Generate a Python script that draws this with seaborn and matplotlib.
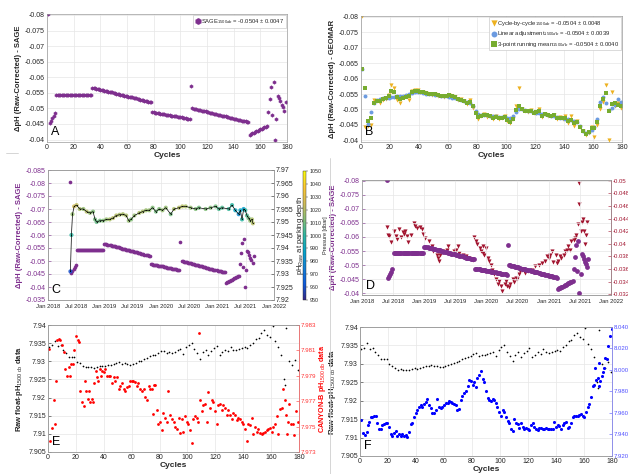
import numpy as np
import pandas as pd
import matplotlib
matplotlib.use("Agg")
import matplotlib.pyplot as plt
import matplotlib.dates as mdates
from matplotlib.ticker import MultipleLocator, FuncFormatter, FixedLocator
from matplotlib.colors import LinearSegmentedColormap, Normalize
from matplotlib.lines import Line2D
import seaborn as sns

# ---------------- data ----------------
# SAGE-derived offset per cycle (panels A, C, D)
sage_cycles = list(range(1, 180))
sage_dph = [
    -0.0803,
    -0.0453, -0.0461, -0.0469, -0.0477, -0.0485,
    -0.0543, -0.0543, -0.0543, -0.0543, -0.0543, -0.0543, -0.0543, -0.0543, -0.0543,
    -0.0543, -0.0543, -0.0543, -0.0543, -0.0543, -0.0543, -0.0543, -0.0543, -0.0543,
    -0.0543, -0.0543, -0.0543, -0.0543, -0.0543, -0.0543, -0.0543, -0.0543, -0.0543,
    -0.0566, -0.0565, -0.0564, -0.0563, -0.0562, -0.0561, -0.0560, -0.0559, -0.0558, -0.0557,
    -0.0556, -0.0555, -0.0554, -0.0553, -0.0552, -0.0551, -0.0549, -0.0548, -0.0547, -0.0546,
    -0.0545, -0.0544, -0.0543, -0.0542, -0.0541, -0.0540, -0.0539, -0.0538, -0.0537, -0.0536,
    -0.0535, -0.0534, -0.0533, -0.0532, -0.0531, -0.0530, -0.0528, -0.0527, -0.0526, -0.0525,
    -0.0524, -0.0523, -0.0522, -0.0521, -0.0520,
    -0.0488, -0.0487, -0.0486, -0.0486, -0.0485, -0.0484, -0.0483, -0.0482, -0.0482, -0.0481,
    -0.0480, -0.0479, -0.0479, -0.0478, -0.0477, -0.0476, -0.0475, -0.0475, -0.0474, -0.0473,
    -0.0472, -0.0471, -0.0471, -0.0470, -0.0469, -0.0468, -0.0467, -0.0467, -0.0466,
    -0.0572,
    -0.0500, -0.0499, -0.0498, -0.0497, -0.0496, -0.0495, -0.0494, -0.0493, -0.0492, -0.0491,
    -0.0490, -0.0488, -0.0487, -0.0486, -0.0485, -0.0484, -0.0483, -0.0482, -0.0481, -0.0480,
    -0.0479, -0.0478, -0.0477, -0.0476, -0.0475, -0.0474, -0.0473, -0.0471, -0.0470, -0.0469,
    -0.0468, -0.0467, -0.0466, -0.0465, -0.0464, -0.0463, -0.0462, -0.0461, -0.0460, -0.0459,
    -0.0458, -0.0457, -0.0456,
    -0.0416, -0.0418, -0.0420, -0.0422, -0.0424, -0.0426, -0.0428, -0.0431, -0.0433, -0.0435,
    -0.0437, -0.0439, -0.0441, -0.0443,
    -0.0487, -0.0529, -0.0570, -0.0478, -0.0585, -0.0400, -0.0467, -0.0540, -0.0533, -0.0523,
    -0.0512, -0.0503, -0.0492, -0.0520,
]

# GEOMAR-derived offsets (panel B), every second cycle
geomar_cycles = list(range(1, 180, 2))
geomar_cycle_by_cycle = [
    -0.0803, -0.0443, -0.0447, -0.0450, -0.0530, -0.0527, -0.0520, -0.0530, -0.0535, -0.0548,
    -0.0578, -0.0570, -0.0532, -0.0522, -0.0540, -0.0542, -0.0530, -0.0560, -0.0562, -0.0563,
    -0.0556, -0.0555, -0.0553, -0.0550, -0.0548, -0.0550, -0.0545, -0.0544, -0.0541, -0.0545,
    -0.0548, -0.0542, -0.0540, -0.0530, -0.0535, -0.0528, -0.0518, -0.0530, -0.0505, -0.0490,
    -0.0468, -0.0480, -0.0485, -0.0475, -0.0480, -0.0468, -0.0478, -0.0470, -0.0473, -0.0480,
    -0.0462, -0.0455, -0.0470, -0.0510, -0.0568, -0.0500, -0.0495, -0.0492, -0.0498, -0.0488,
    -0.0490, -0.0500, -0.0475, -0.0485, -0.0480, -0.0478, -0.0483, -0.0470, -0.0475, -0.0470,
    -0.0478, -0.0455, -0.0478, -0.0448, -0.0462, -0.0445, -0.0430, -0.0418, -0.0425, -0.0445,
    -0.0410, -0.0450, -0.0500, -0.0525, -0.0580, -0.0400, -0.0557, -0.0512, -0.0520, -0.0505,
]
geomar_linear = [
    -0.0631, -0.0545, -0.0454, -0.0491, -0.0522, -0.0532, -0.0535, -0.0536, -0.0537, -0.0538,
    -0.0540, -0.0541, -0.0543, -0.0544, -0.0545, -0.0547, -0.0549, -0.0552, -0.0556, -0.0557,
    -0.0555, -0.0553, -0.0551, -0.0550, -0.0549, -0.0548, -0.0547, -0.0545, -0.0544, -0.0542,
    -0.0540, -0.0538, -0.0536, -0.0534, -0.0531, -0.0528, -0.0525, -0.0521, -0.0512, -0.0495,
    -0.0485, -0.0483, -0.0482, -0.0481, -0.0480, -0.0479, -0.0478, -0.0477, -0.0476, -0.0475,
    -0.0474, -0.0473, -0.0478, -0.0492, -0.0503, -0.0500, -0.0498, -0.0496, -0.0494, -0.0492,
    -0.0490, -0.0488, -0.0486, -0.0484, -0.0482, -0.0480, -0.0478, -0.0476, -0.0474, -0.0472,
    -0.0470, -0.0468, -0.0466, -0.0463, -0.0458, -0.0447, -0.0432, -0.0423, -0.0428, -0.0435,
    -0.0442, -0.0470, -0.0525, -0.0541, -0.0520, -0.0497, -0.0505, -0.0515, -0.0535, -0.0525,
]
geomar_running = [
    -0.0632, -0.0570, -0.0462, -0.0472, -0.0520, -0.0528, -0.0528, -0.0533, -0.0538, -0.0545,
    -0.0560, -0.0558, -0.0540, -0.0535, -0.0538, -0.0540, -0.0542, -0.0555, -0.0560, -0.0561,
    -0.0556, -0.0555, -0.0553, -0.0550, -0.0549, -0.0549, -0.0546, -0.0544, -0.0542, -0.0545,
    -0.0546, -0.0542, -0.0539, -0.0533, -0.0532, -0.0526, -0.0522, -0.0525, -0.0510, -0.0490,
    -0.0475, -0.0480, -0.0483, -0.0482, -0.0478, -0.0473, -0.0476, -0.0472, -0.0474, -0.0477,
    -0.0466, -0.0460, -0.0470, -0.0497, -0.0510, -0.0500, -0.0496, -0.0495, -0.0496, -0.0490,
    -0.0491, -0.0495, -0.0480, -0.0484, -0.0481, -0.0479, -0.0481, -0.0473, -0.0474, -0.0472,
    -0.0472, -0.0462, -0.0465, -0.0455, -0.0458, -0.0445, -0.0432, -0.0422, -0.0428, -0.0440,
    -0.0440, -0.0458, -0.0510, -0.0535, -0.0552, -0.0495, -0.0518, -0.0520, -0.0515, -0.0510,
]

# pH at parking depth (panel C, right axis)
park_cycles = [1, 2, 3, 4.6, 7, 10, 13.6, 16.8, 20, 23,
               24.9, 26.5, 29.7, 32.9, 36, 39.2, 42.4, 45.6, 48.8, 52,
               55.2, 57.7, 60, 63.2, 68, 71.3, 74.5, 77.7, 80.9, 84.1,
               87.3, 90.5, 93.7, 98.5, 101.7, 106.6, 109.8, 113, 117.8, 122.7,
               125.9, 132.4, 137.2, 142.1, 145.3, 148.5, 154.9, 158.1, 161.3, 164.6,
               166.2, 167.8, 169.4, 171, 172.6, 174.2, 175.8, 177.5, 178.4]
park_ph = [7.931, 7.945, 7.953, 7.956, 7.9565, 7.955, 7.955, 7.954, 7.9535, 7.954,
           7.951, 7.950, 7.9505, 7.9505, 7.951, 7.951, 7.9515, 7.9525, 7.9528, 7.953,
           7.9525, 7.9505, 7.951, 7.9525, 7.9535, 7.954, 7.9545, 7.9545, 7.9555, 7.954,
           7.955, 7.9545, 7.9555, 7.953, 7.955, 7.9555, 7.956, 7.956, 7.9555, 7.955,
           7.9555, 7.955, 7.9555, 7.956, 7.955, 7.9555, 7.955, 7.9565, 7.9545, 7.953,
           7.9545, 7.951, 7.955, 7.9545, 7.9525, 7.9515, 7.9505, 7.951, 7.9495]
park_pressure = [960, 1000, 1015, 1025, 1022, 1018, 1015, 1020, 1015, 1012,
                 1010, 1008, 1010, 1012, 1015, 1018, 1020, 1020, 1018, 1018,
                 1018, 1015, 1012, 1015, 1018, 1018, 1016, 1015, 1012, 1010,
                 1012, 1015, 1015, 1010, 1018, 1020, 1020, 1018, 1015, 1012,
                 1010, 1012, 1012, 1010, 1005, 1005, 1002, 1000, 990, 980,
                 990, 1000, 985, 1000, 1005, 1010, 1015, 1018, 1020]

# Second offset estimate (panel D, right axis)
d_red_cycles = [1, 2, 3, 5, 7, 9, 10, 12, 14, 15,
                16, 17, 19, 20, 22, 25, 26, 28, 30, 32,
                33, 35, 38, 41, 42, 45, 46, 47, 48, 51,
                54, 55, 57, 60, 62, 64, 65, 68, 71, 74,
                77, 78, 80, 81, 83, 84, 86, 86, 87, 89,
                90, 91, 93, 94, 96, 97, 99, 100, 102, 103,
                105, 106, 107, 109, 110, 112, 113, 115, 116, 118,
                119, 120, 123, 126, 129, 132, 135, 138, 141, 142,
                144, 145, 147, 148, 150, 151, 152, 154, 155, 157,
                158, 160, 161, 163, 164, 166, 167, 168, 170, 171,
                171, 172, 173, 174, 175, 176, 177, 178]
d_red_vals = [-0.0426, -0.0414, -0.0412, -0.0403, -0.0420, -0.0412, -0.0407, -0.0423, -0.0410, -0.0419,
              -0.0415, -0.0420, -0.0412, -0.0403, -0.0414, -0.0433, -0.0428, -0.0425, -0.0426, -0.0423,
              -0.0416, -0.0409, -0.0404, -0.0396, -0.0388, -0.0383, -0.0378, -0.0373, -0.0383, -0.0388,
              -0.0391, -0.0396, -0.0386, -0.0388, -0.0391, -0.0396, -0.0386, -0.0383, -0.0380, -0.0378,
              -0.0375, -0.0411, -0.0404, -0.0399, -0.0393, -0.0388, -0.0386, -0.0396, -0.0383, -0.0393,
              -0.0378, -0.0373, -0.0367, -0.0359, -0.0352, -0.0344, -0.0336, -0.0341, -0.0333, -0.0326,
              -0.0336, -0.0341, -0.0333, -0.0331, -0.0336, -0.0344, -0.0339, -0.0346, -0.0344, -0.0352,
              -0.0357, -0.0359, -0.0354, -0.0357, -0.0359, -0.0365, -0.0367, -0.0370, -0.0373, -0.0380,
              -0.0378, -0.0383, -0.0388, -0.0372, -0.0383, -0.0370, -0.0373, -0.0380, -0.0378, -0.0383,
              -0.0388, -0.0391, -0.0396, -0.0391, -0.0404, -0.0406, -0.0409, -0.0414, -0.0432, -0.0497,
              -0.0463, -0.0420, -0.0435, -0.0440, -0.0420, -0.0399, -0.0414, -0.0435]

# Raw float pH at 1500 db (panels E, F, left axis)
raw_cycles = list(range(1, 170, 2)) + [170, 171, 173, 175, 177, 179]
raw_ph = [7.9340, 7.9344, 7.9356, 7.9341, 7.9344, 7.9331, 7.9323, 7.9313, 7.9312, 7.9313,
          7.9299, 7.9294, 7.9288, 7.9283, 7.9285, 7.9284, 7.9282, 7.9284, 7.9286, 7.9288,
          7.9286, 7.9289, 7.9291, 7.9293, 7.9295, 7.9297, 7.9293, 7.9295, 7.9292, 7.9291,
          7.9293, 7.9296, 7.9300, 7.9302, 7.9305, 7.9309, 7.9314, 7.9317, 7.9318, 7.9322,
          7.9327, 7.9329, 7.9322, 7.9325, 7.9323, 7.9326, 7.9330, 7.9333, 7.9320, 7.9338,
          7.9345, 7.9350, 7.9333, 7.9322, 7.9307, 7.9325, 7.9331, 7.9318, 7.9329, 7.9336,
          7.9343, 7.9318, 7.9325, 7.9331, 7.9327, 7.9340, 7.9331, 7.9330, 7.9333, 7.9336,
          7.9338, 7.9336, 7.9345, 7.9350, 7.9362, 7.9364, 7.9378, 7.9385, 7.9372, 7.9367,
          7.9396, 7.9355, 7.9340, 7.9318, 7.9251,
          7.9235, 7.9392, 7.9300, 7.9290, 7.9304, 7.9277]

# CANYON-B pH at 1500 db (panel E, right axis)
canyon_cycles = [0.5, 1.2, 2.9, 4.1, 4.8, 6, 6.4, 7.6, 8.8, 10,
                 11.2, 12.4, 13.6, 14.8, 16, 16.7, 17.9, 18.9, 20.3, 21.2,
                 22.2, 23.2, 24.3, 25.5, 26.5, 27.4, 28.4, 29.4, 30.3, 31.3,
                 32.2, 33.2, 34.1, 35.1, 36, 37, 37.9, 38.9, 39.9, 41,
                 42.2, 43.4, 44.6, 45.8, 47, 48.2, 49.4, 50.6, 51.8, 53,
                 54.2, 55.4, 56.6, 57.8, 58.9, 60.1, 61.3, 62.5, 63.7, 64.9,
                 66.1, 67.3, 68.5, 69.7, 70.9, 72.1, 73.3, 74.5, 75.7, 76.8,
                 75.2, 77.9, 79.2, 80.4, 81.6, 82.8, 84, 85.2, 86.4, 87.6,
                 88.8, 90, 91.2, 92.4, 93.6, 94.7, 95.9, 97.1, 98.3, 99.5,
                 100.7, 101.9, 103.1, 104.3, 105.5, 106.7, 107.9, 108.4, 109.1, 110.3,
                 111.5, 112.6, 113.8, 115, 116.2, 117.4, 118.6, 119.8, 121, 122.2,
                 123.4, 124.6, 125.8, 127, 128.2, 129.4, 130.5, 131.7, 132.9, 134.1,
                 135.3, 136.5, 137.7, 138.9, 140.1, 141.3, 142.5, 143.7, 144.9, 146.1,
                 147.3, 148.4, 149.6, 150.8, 152, 153.2, 154.4, 155.6, 156.8, 158,
                 159.2, 160.4, 161.6, 162.8, 164, 165.2, 166.3, 167.5, 168.7, 169.9,
                 170.6, 171.1, 172.3, 173, 174, 175.4, 176.4, 177.8, 179]
canyon_ph = [7.9811, 7.9739, 7.9749, 7.9771, 7.9752, 7.9786, 7.9818, 7.9819, 7.9818, 7.9814,
             7.9809, 7.9795, 7.9790, 7.9797, 7.9790, 7.9799, 7.9799, 7.9810, 7.9821, 7.9818,
             7.9817, 7.9778, 7.9769, 7.9766, 7.9786, 7.9778, 7.9772, 7.9778, 7.9769, 7.9772,
             7.9769, 7.9784, 7.9794, 7.9789, 7.9786, 7.9795, 7.9790, 7.9794, 7.9793, 7.9795,
             7.9790, 7.9790, 7.9790, 7.9784, 7.9789, 7.9786, 7.9789, 7.9780, 7.9782, 7.9784,
             7.9780, 7.9778, 7.9781, 7.9782, 7.9786, 7.9786, 7.9786, 7.9785, 7.9782, 7.9784,
             7.9780, 7.9778, 7.9780, 7.9773, 7.9771, 7.9782, 7.9780, 7.9780, 7.9783, 7.9783,
             7.9760, 7.9763, 7.9752, 7.9754, 7.9747, 7.9761, 7.9757, 7.9754, 7.9778, 7.9759,
             7.9756, 7.9754, 7.9750, 7.9748, 7.9757, 7.9745, 7.9756, 7.9746, 7.9758, 7.9754,
             7.9752, 7.9747, 7.9737, 7.9756, 7.9758, 7.9757, 7.9754, 7.9824, 7.9771, 7.9762,
             7.9767, 7.9768, 7.9754, 7.9777, 7.9765, 7.9771, 7.9769, 7.9762, 7.9752, 7.9767,
             7.9768, 7.9763, 7.9767, 7.9765, 7.9759, 7.9763, 7.9759, 7.9756, 7.9761, 7.9759,
             7.9755, 7.9757, 7.9756, 7.9754, 7.9752, 7.9748, 7.9739, 7.9752, 7.9751, 7.9757,
             7.9744, 7.9750, 7.9746, 7.9748, 7.9745, 7.9744, 7.9745, 7.9746, 7.9747, 7.9748,
             7.9749, 7.9746, 7.9750, 7.9752, 7.9758, 7.9744, 7.9764, 7.9765, 7.9780, 7.9771,
             7.9759, 7.9744, 7.9754, 7.9768, 7.9752, 7.9752, 7.9743, 7.9762, 7.9754]

# Reference pH at 1500 db (panel F, right axis)
ref_cycles = [0.5, 2.4, 3.3, 4.8, 5.7, 6.7, 7.6, 8.8, 10, 11.2,
              12.4, 13.6, 14.8, 16, 17.2, 18.4, 19.6, 20.8, 21.9, 23.1,
              24.3, 25.5, 26.7, 27.9, 29.1, 30.3, 31.5, 32.7, 33.9, 35,
              36.2, 37.4, 38.6, 39.8, 41, 42.2, 43.4, 44.6, 45.8, 47,
              48.2, 49.4, 50.5, 51.7, 52.9, 54.1, 55.3, 56.5, 57.7, 58.9,
              60.1, 61.3, 62.5, 63.7, 64.9, 66, 67.2, 68.4, 69.6, 70.8,
              72, 73.2, 74.4, 75.6, 76.8, 78, 79.2, 80.4, 81.5, 82.7,
              83.9, 85.1, 86.3, 87.5, 88.7, 89.9, 91.1, 92.3, 93.5, 94.7,
              95.9, 97, 98.2, 99.4, 100.6, 101.8, 103, 104.2, 105.4, 106.6,
              107.8, 109, 110.2, 111.3, 112.5, 113.7, 114.9, 116.1, 117.3, 118.5,
              119.7, 120.9, 122.1, 123.3, 124.5, 125.7, 126.8, 128, 129.2, 130.4,
              131.6, 132.8, 134, 135.2, 136.4, 137.6, 138.8, 140, 141.2, 142.3,
              143.5, 144.7, 145.9, 147.1, 148.3, 149.5, 150.7, 151.9, 153.1, 154.3,
              155.5, 156.7, 157.8, 159, 160.2, 161.4, 162.6, 163.8, 165, 166.2,
              167.4, 168.1, 168.6, 169.8, 170.5, 171, 171.7, 172.6, 173.3, 174,
              175, 176.5, 177.4, 178.8, 179.8]
ref_ph = [7.9534, 7.9410, 7.9394, 7.9425, 7.9488, 7.9519, 7.9560, 7.9566, 7.9572, 7.9572,
          7.9503, 7.9453, 7.9453, 7.9488, 7.9497, 7.9503, 7.9509, 7.9472, 7.9403, 7.9384,
          7.9416, 7.9434, 7.9384, 7.9403, 7.9384, 7.9403, 7.9384, 7.9394, 7.9378, 7.9425,
          7.9494, 7.9503, 7.9566, 7.9597, 7.9628, 7.9659, 7.9675, 7.9659, 7.9684, 7.9706,
          7.9728, 7.9675, 7.9644, 7.9603, 7.9597, 7.9628, 7.9728, 7.9659, 7.9644, 7.9659,
          7.9675, 7.9691, 7.9697, 7.9716, 7.9706, 7.9697, 7.9684, 7.9675, 7.9628, 7.9634,
          7.9722, 7.9759, 7.9784, 7.9800, 7.9853, 7.9909, 7.9894, 7.9863, 7.9884, 7.9841,
          7.9925, 7.9956, 7.9988, 7.9916, 7.9884, 7.9800, 7.9737, 7.9722, 7.9716, 7.9728,
          7.9722, 7.9697, 7.9659, 7.9613, 7.9572, 7.9628, 7.9613, 7.9566, 7.9528, 7.9503,
          7.9447, 7.9434, 7.9541, 7.9509, 7.9497, 7.9456, 7.9503, 7.9466, 7.9453, 7.9456,
          7.9447, 7.9441, 7.9488, 7.9509, 7.9466, 7.9447, 7.9441, 7.9456, 7.9460, 7.9453,
          7.9447, 7.9456, 7.9450, 7.9453, 7.9447, 7.9453, 7.9519, 7.9472, 7.9488, 7.9478,
          7.9453, 7.9488, 7.9509, 7.9519, 7.9456, 7.9472, 7.9503, 7.9566, 7.9572, 7.9572,
          7.9572, 7.9581, 7.9591, 7.9572, 7.9559, 7.9613, 7.9653, 7.9684, 7.9747, 7.9847,
          7.9863, 8.0019, 7.9909, 7.9925, 8.0066, 7.9853, 7.9894, 7.9941, 7.9978, 8.0019,
          8.0113, 8.0103, 8.0222, 8.0316, 8.0378]

x_ticks_cycles = [0, 20, 40, 60, 80, 100, 120, 140, 160, 180]
legend_A = "SAGE$_{1500db}$ = -0.0504 ± 0.0047"
legend_B = ["Cycle-by-cycle$_{1500db}$ = -0.0504 ± 0.0048",
            "Linear adjustment$_{1500db}$ = -0.0504 ± 0.0039",
            "3-point running mean$_{1500db}$ = -0.0504 ± 0.0040"]

FIRST_PROFILE = pd.Timestamp("2018-05-26")
CYCLE_DAYS = 6.65


def to_dates(cycles):
    return FIRST_PROFILE + pd.to_timedelta((np.asarray(cycles, dtype=float) - 1) * CYCLE_DAYS, unit="D")


# ---------------- style ----------------
sns.set_style("white")
plt.rcParams['font.family'] = ['Liberation Sans', 'DejaVu Sans']
plt.rcParams['mathtext.fontset'] = 'custom'
plt.rcParams['mathtext.rm'] = 'Liberation Sans'
plt.rcParams['mathtext.it'] = 'Liberation Sans:italic'
plt.rcParams['mathtext.bf'] = 'Liberation Sans:bold'

PURPLE = '#7E2F8E'
ORANGE = '#EDB120'
LBLUE = '#6C9BE0'
GREEN = '#77AC30'
DRED = '#A2142F'
TXT = '#262626'
parula = LinearSegmentedColormap.from_list(
    'parula', ['#352a87', '#0f5cdd', '#1481d6', '#06a4ca', '#2eb7a4',
               '#87bf77', '#d1bb59', '#fec832', '#f9fb0e'])

W, H = 628, 474
fig = plt.figure(figsize=(W / 100, H / 100), dpi=100)
fig.patch.set_facecolor('white')


def add_ax(x0, y0, x1, y1):
    return fig.add_axes([x0 / W, 1 - y1 / H, (x1 - x0) / W, (y1 - y0) / H])


gfmt = FuncFormatter(lambda v, p: f"{v:g}")
FS = 5


def style(ax, grid=True):
    ax.tick_params(labelsize=FS, length=2, width=0.4, colors=TXT, direction='in', pad=1.5)
    for s in ax.spines.values():
        s.set_color('#9a9a9a')
        s.set_linewidth(0.5)
    if grid:
        ax.grid(True, color='#e6e6e6', lw=0.5)
        ax.set_axisbelow(True)


def cycles_axis(ax, xlabel=True):
    ax.set_xlim(0, 180)
    ax.xaxis.set_major_locator(FixedLocator(x_ticks_cycles))
    if xlabel:
        ax.set_xlabel("Cycles", fontsize=6, fontweight='bold', labelpad=1)


def date_axis(ax):
    ax.set_xlim(pd.Timestamp("2018-01-01"), pd.Timestamp("2022-01-01"))
    ax.xaxis.set_major_locator(mdates.MonthLocator(bymonth=[1, 7]))
    ax.xaxis.set_major_formatter(mdates.DateFormatter('%b %Y'))
    ax.tick_params(axis='x', labelsize=4.2, pad=3)
    ax.set_xlabel("")


def letter(ax, s):
    ax.text(0.015, 0.03, s, transform=ax.transAxes, fontsize=9, color='black', ha='left', va='bottom')


# ---------------- panel A ----------------
axA = add_ax(47, 14, 287, 142)
sns.scatterplot(x=sage_cycles, y=sage_dph, ax=axA, marker='h', s=7, color=PURPLE,
                edgecolor=PURPLE, linewidth=0.2, label=legend_A)
style(axA)
cycles_axis(axA)
axA.set_ylim(-0.0392, -0.0803)
axA.yaxis.set_major_locator(MultipleLocator(0.005))
axA.yaxis.set_major_formatter(gfmt)
axA.set_ylabel("ΔpH (Raw-Corrected) - SAGE", fontsize=5.5, fontweight='bold', labelpad=2)
legA = axA.legend(loc='upper right', fontsize=4.2, handletextpad=0.1, borderpad=0.35,
                  borderaxespad=0.15, markerscale=1.8, framealpha=1, fancybox=False,
                  handlelength=1.0)
legA.get_frame().set_edgecolor('#cccccc')
legA.get_frame().set_linewidth(0.5)
letter(axA, 'A')

# ---------------- panel B ----------------
axB = add_ax(361, 16, 622, 142)
sns.scatterplot(x=geomar_cycles, y=geomar_cycle_by_cycle, ax=axB, marker='v', s=9,
                color=ORANGE, linewidth=0, label=legend_B[0])
sns.scatterplot(x=geomar_cycles, y=geomar_linear, ax=axB, marker='o', s=8,
                color=LBLUE, linewidth=0, label=legend_B[1])
sns.scatterplot(x=geomar_cycles, y=geomar_running, ax=axB, marker='s', s=6,
                color=GREEN, linewidth=0, label=legend_B[2])
style(axB)
cycles_axis(axB)
axB.set_ylim(-0.0395, -0.0802)
axB.yaxis.set_major_locator(MultipleLocator(0.005))
axB.yaxis.set_major_formatter(gfmt)
axB.set_ylabel("ΔpH (Raw-Corrected) - GEOMAR", fontsize=5.5, fontweight='bold', labelpad=2)
legB = axB.legend(loc='upper right', fontsize=4.2, handletextpad=0.1, borderpad=0.3,
                  borderaxespad=0.15, markerscale=1.5, framealpha=1, fancybox=False,
                  handlelength=1.0, labelspacing=0.25)
legB.get_frame().set_edgecolor('#cccccc')
legB.get_frame().set_linewidth(0.5)
letter(axB, 'B')

# ---------------- panel C ----------------
axC = add_ax(48, 170, 274, 300)
axC2 = axC.twinx()
sns.scatterplot(x=to_dates(sage_cycles), y=sage_dph, ax=axC, marker='o', s=7,
                color=PURPLE, linewidth=0)
sns.scatterplot(x=to_dates(park_cycles), y=park_ph, hue=park_pressure, palette=parula,
                hue_norm=(950, 1050), legend=False, ax=axC2, s=9, linewidth=0, alpha=0.85)
sns.lineplot(x=to_dates(park_cycles), y=park_ph, ax=axC2, color='black', lw=0.5,
             marker='.', markersize=1.5, markeredgewidth=0)
style(axC)
style(axC2, grid=False)
date_axis(axC)
axC2.set_xlabel("")
axC.set_ylim(-0.035, -0.085)
axC.yaxis.set_major_locator(MultipleLocator(0.005))
axC.yaxis.set_major_formatter(gfmt)
axC.tick_params(axis='y', colors=PURPLE)
axC.set_ylabel("ΔpH (Raw-Corrected) - SAGE", fontsize=5.5, fontweight='bold', color=PURPLE, labelpad=2)
axC2.set_ylim(7.92, 7.97)
axC2.yaxis.set_major_locator(MultipleLocator(0.005))
axC2.yaxis.set_major_formatter(gfmt)
axC2.set_ylabel("pH$_{\\mathrm{Raw}}$ at parking depth", fontsize=5.5, labelpad=1)
letter(axC, 'C')

cax = add_ax(303, 171, 306, 300)
cb = fig.colorbar(plt.cm.ScalarMappable(norm=Normalize(950, 1050), cmap=parula), cax=cax,
                  ticks=list(range(950, 1051, 10)))
cb.outline.set_linewidth(0.3)
cax.tick_params(labelsize=3.8, length=1.5, width=0.3, pad=1, colors=TXT)
cb.set_label("Pressure [dbar]", fontsize=4, labelpad=1)

# ---------------- panel D ----------------
axD = add_ax(362, 180, 611, 295)
axD2 = axD.twinx()
sns.scatterplot(x=to_dates(d_red_cycles), y=d_red_vals, ax=axD2, marker='v', s=9,
                color=DRED, linewidth=0)
sns.scatterplot(x=to_dates(sage_cycles), y=sage_dph, ax=axD, marker='o', s=12,
                color=PURPLE, linewidth=0)
axD.set_zorder(axD2.get_zorder() + 1)
axD.patch.set_visible(False)
style(axD)
style(axD2, grid=False)
date_axis(axD)
axD2.set_xlabel("")
axD.set_ylim(-0.0394, -0.0802)
axD.yaxis.set_major_locator(MultipleLocator(0.005))
axD.yaxis.set_major_formatter(gfmt)
axD.tick_params(axis='y', colors=PURPLE)
axD.set_ylabel("ΔpH (Raw-Corrected) - SAGE", fontsize=5.5, fontweight='bold', color=PURPLE, labelpad=2)
axD2.set_ylim(-0.0319, -0.0501)
axD2.yaxis.set_major_locator(MultipleLocator(0.002))
axD2.yaxis.set_major_formatter(gfmt)
axD2.tick_params(axis='y', colors=DRED, labelsize=4.3, pad=1)
axD2.spines['right'].set_color(DRED)
letter(axD, 'D')

# ---------------- panel E ----------------
axE = add_ax(48, 325, 299, 452)
axE2 = axE.twinx()
sns.scatterplot(x=raw_cycles, y=raw_ph, ax=axE, marker='o', s=1.5, color='black', linewidth=0)
sns.scatterplot(x=canyon_cycles, y=canyon_ph, ax=axE2, marker='o', s=4, color='red', linewidth=0)
style(axE)
style(axE2, grid=False)
cycles_axis(axE)
axE.set_ylim(7.905, 7.94)
axE.yaxis.set_major_locator(MultipleLocator(0.005))
axE.yaxis.set_major_formatter(gfmt)
axE.set_ylabel("Raw float-pH$_{\\mathrm{1500\\ db}}$ data", fontsize=5.5, fontweight='bold', labelpad=2)
axE2.set_ylim(7.973, 7.983)
axE2.yaxis.set_major_locator(FixedLocator([7.973, 7.975, 7.977, 7.979, 7.981, 7.983]))
axE2.yaxis.set_major_formatter(FuncFormatter(lambda v, p: f"{v:.3f}"))
axE2.tick_params(axis='y', colors='#ff3030', labelsize=4.4, pad=1)
axE2.spines['right'].set_color('#ff6060')
axE2.set_ylabel("CANYON-B pH$_{\\mathrm{1500\\ db}}$ data", fontsize=5.2, fontweight='bold',
                color='red', labelpad=0.5)
letter(axE, 'E')

# ---------------- panel F ----------------
axF = add_ax(360, 327, 612, 456)
axF2 = axF.twinx()
sns.scatterplot(x=raw_cycles, y=raw_ph, ax=axF, marker='o', s=1.5, color='black', linewidth=0)
sns.scatterplot(x=ref_cycles, y=ref_ph, ax=axF2, marker='o', s=5, color='#0000ff', linewidth=0)
style(axF)
style(axF2, grid=False)
cycles_axis(axF)
axF.set_ylim(7.905, 7.94)
axF.yaxis.set_major_locator(MultipleLocator(0.005))
axF.yaxis.set_major_formatter(gfmt)
axF.set_ylabel("Raw float-pH$_{\\mathrm{1500\\ db}}$ data", fontsize=5.5, fontweight='bold', labelpad=1.5)
axF2.set_ylim(7.92, 8.04)
axF2.yaxis.set_major_locator(MultipleLocator(0.02))
axF2.yaxis.set_major_formatter(FuncFormatter(lambda v, p: f"{v:.3f}"))
axF2.tick_params(axis='y', colors='#5050ff', labelsize=4.3, pad=1)
axF2.spines['right'].set_color('#8080ff')
letter(axF, 'F')

# separators between the pasted panels
fig.add_artist(Line2D([330 / W, 330 / W], [0, 1 - 158 / H], color='#cfcfcf', lw=0.6))
fig.add_artist(Line2D([6 / W, 18 / W], [1 - 153 / H, 1 - 153 / H], color='#cfcfcf', lw=0.6))

fig.savefig("out.png", dpi=100, facecolor='white')
